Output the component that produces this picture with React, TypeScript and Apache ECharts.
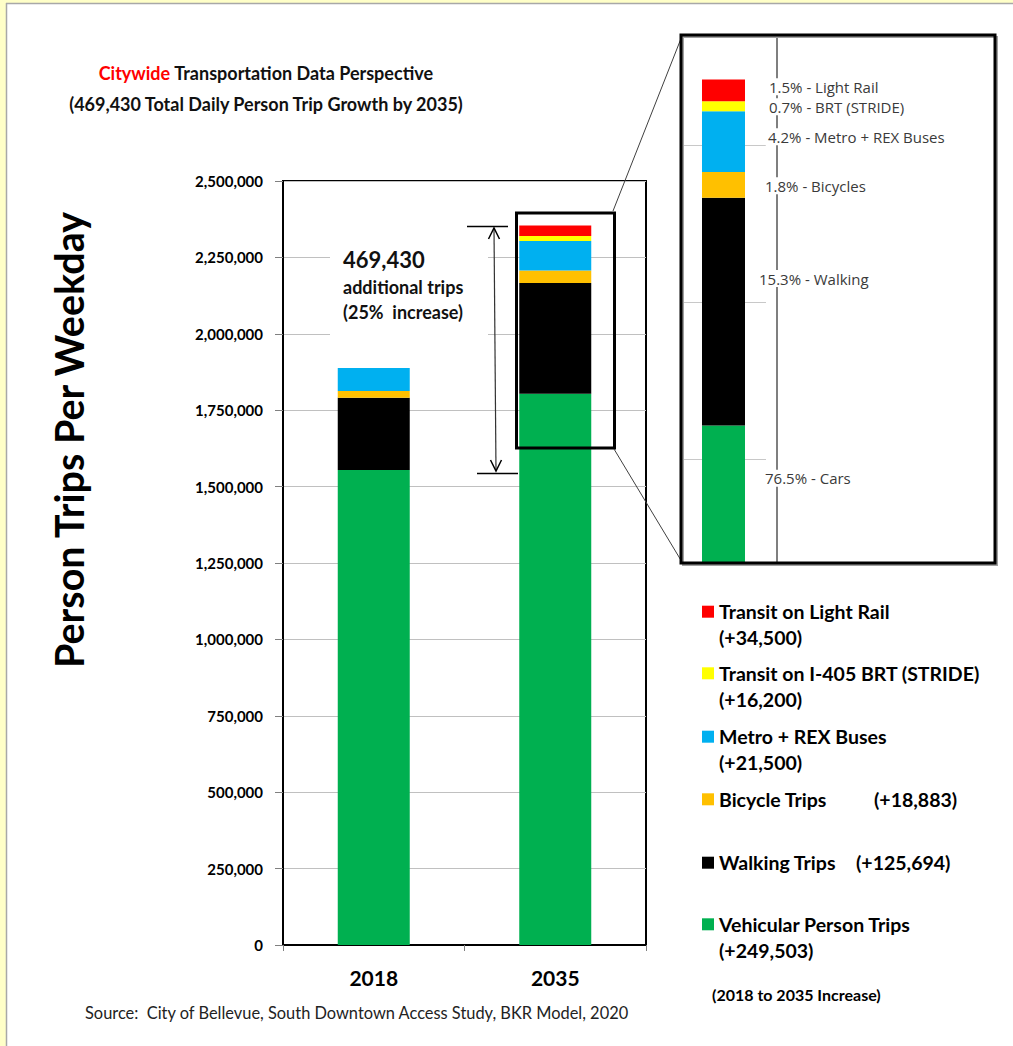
import React, { useEffect, useRef } from 'react';
import * as echarts from 'echarts';

// ---- data ----
const years = ['2018', '2035'];
const modeNames = [
  'Vehicular Person Trips',
  'Walking Trips',
  'Bicycle Trips',
  'Metro + REX Buses',
  'Transit on I-405 BRT (STRIDE)',
  'Transit on Light Rail',
];
const trips2018 = [1554000, 237000, 22000, 75000, 0, 0];
const trips2035 = [1803503, 362694, 40883, 96500, 16200, 34500];
const increases = ['(+249,503)', '(+125,694)', '(+18,883)', '(+21,500)', '(+16,200)', '(+34,500)'];
const shareLabels = [
  '76.5% - Cars',
  '15.3% - Walking',
  '1.8% - Bicycles',
  '4.2% - Metro + REX Buses',
  '0.7% - BRT (STRIDE)',
  '1.5% - Light Rail',
];
const yMin = 0;
const yMax = 2500000;
const yInterval = 250000;
const insetMin = 1584400;
const insetMax = 2425200;

// ---- styles ----
const modeColors = ['#00B050', '#000000', '#FFC000', '#00B0F0', '#FFFF00', '#FF0000'];
const labelOffsets = [[-2, -16], [-8, -33], [-2, 1], [1, -5], [2, 0.5], [2, -3.5]];
const legendOrder = [5, 4, 3, 2, 1, 0];
const legendCenters = [611.7, 673.3, 736.7, 799.3, 862.7, 924.3];
const legendTwoLine = [true, true, true, false, false, true];
const legendValueX = [0, 0, 0, 155, 137, 0];

const FONT = 'Lato, "Noto Sans", sans-serif';
const LABEL_FONT = '"Open Sans", "Noto Sans", sans-serif';
const LEG_SIZE = 19.5;

export default function App() {
  const ref = useRef<HTMLDivElement>(null);
  useEffect(() => {
    const chart = echarts.init(ref.current!, null, { renderer: 'svg' });

    const mainSeries = modeNames.map((name, i) => ({
      name,
      type: 'bar',
      stack: 'main',
      xAxisIndex: 0,
      yAxisIndex: 0,
      barWidth: 72,
      itemStyle: { color: modeColors[i] },
      data: [trips2018[i], trips2035[i]],
    }));

    const insetSeries = modeNames.map((name, i) => ({
      name,
      type: 'bar',
      stack: 'inset',
      xAxisIndex: 1,
      yAxisIndex: 1,
      barWidth: 43,
      itemStyle: { color: modeColors[i] },
      label: {
        show: true,
        position: 'right',
        distance: 19,
        offset: labelOffsets[i],
        formatter: shareLabels[i],
        color: '#3a3a3a',
        fontFamily: LABEL_FONT,
        fontSize: 15,
        lineHeight: 17,
        backgroundColor: '#ffffff',
        padding: [0, 3],
      },
      data: [trips2035[i]],
    }));

    const legends = legendOrder.map((idx, k) => {
      const name = modeNames[idx];
      const two = legendTwoLine[k];
      const base: any = {
        show: true,
        data: [name],
        left: 702,
        top: two ? legendCenters[k] - 39 : legendCenters[k] - 13,
        orient: 'vertical',
        padding: 0,
        itemGap: 0,
        itemWidth: 12,
        itemHeight: 12,
        icon: 'rect',
        selectedMode: false,
      };
      if (two) {
        // leading blank line keeps the name line level with the colour square
        base.formatter = (n: string) => ' \n' + n + '\n' + increases[idx];
        base.textStyle = {
          fontFamily: FONT,
          fontSize: LEG_SIZE,
          fontWeight: 'bold',
          color: '#000',
          lineHeight: 26,
        };
      } else {
        base.formatter = (n: string) => '{n|' + n + '}{v|' + increases[idx] + '}';
        base.textStyle = {
          fontFamily: FONT,
          fontSize: LEG_SIZE,
          fontWeight: 'bold',
          color: '#000',
          lineHeight: 26,
          rich: {
            n: { width: legendValueX[k], fontFamily: FONT, fontSize: LEG_SIZE, fontWeight: 'bold', color: '#000', lineHeight: 26 },
            v: { fontFamily: FONT, fontSize: LEG_SIZE, fontWeight: 'bold', color: '#000', lineHeight: 26 },
          },
        };
      }
      return base;
    });

    const option: any = {
      animation: false,
      backgroundColor: '#ffffff',
      title: {
        text: '{r|Citywide} Transportation Data Perspective\n(469,430 Total Daily Person Trip Growth by 2035)',
        left: 266,
        top: 57,
        textAlign: 'center',
        padding: 0,
        textStyle: {
          fontFamily: FONT,
          fontSize: 18,
          fontWeight: 'bold',
          color: '#111',
          lineHeight: 31,
          rich: {
            r: { fontFamily: FONT, fontSize: 18, fontWeight: 'bold', color: '#FF0000', lineHeight: 31 },
          },
        },
      },
      legend: legends,
      grid: [
        {
          left: 283, top: 181, width: 363, height: 764,
          show: true, borderColor: '#000', borderWidth: 2,
          containLabel: false, outerBoundsMode: 'none',
        },
        {
          left: 681, top: 35, width: 85, height: 528,
          containLabel: false, outerBoundsMode: 'none',
        },
      ],
      xAxis: [
        {
          type: 'category',
          gridIndex: 0,
          data: years,
          axisLine: { lineStyle: { color: '#000', width: 2 } },
          axisTick: { show: true, length: 6, lineStyle: { color: '#808080' } },
          axisLabel: { fontFamily: FONT, fontSize: 21, fontWeight: 'bold', color: '#000', margin: 22 },
        },
        {
          type: 'category',
          gridIndex: 1,
          data: [years[1]],
          show: false,
        },
      ],
      yAxis: [
        {
          type: 'value',
          gridIndex: 0,
          min: yMin,
          max: yMax,
          interval: yInterval,
          axisLine: { show: true, lineStyle: { color: '#000', width: 2 } },
          axisTick: { show: true, length: 8, lineStyle: { color: '#808080' } },
          axisLabel: {
            fontFamily: FONT, fontSize: 15, fontWeight: 'bold', color: '#000', margin: 20,
            formatter: (v: number) => v.toLocaleString('en-US'),
          },
          splitLine: { show: true, lineStyle: { color: '#c0c0c0', width: 1 } },
        },
        {
          type: 'value',
          gridIndex: 1,
          min: insetMin,
          max: insetMax,
          minInterval: yInterval,
          maxInterval: yInterval,
          axisLine: { show: false },
          axisTick: { show: false },
          axisLabel: { show: false },
          splitLine: { show: true, lineStyle: { color: '#c8c8c8', width: 1 } },
        },
      ],
      series: [...mainSeries, ...insetSeries],
      graphic: [
        // page edge
        { type: 'rect', z: 0, shape: { x: 0, y: 0, width: 6, height: 1046 }, style: { fill: '#FFFFC8' } },
        { type: 'rect', z: 0, shape: { x: 0, y: 0, width: 1013, height: 3 }, style: { fill: '#FFFFC8' } },
        { type: 'line', z: 0, shape: { x1: 6.5, y1: 3, x2: 6.5, y2: 1046 }, style: { stroke: '#a8a8a8', lineWidth: 1.5 } },
        { type: 'line', z: 0, shape: { x1: 6, y1: 3.5, x2: 1013, y2: 3.5 }, style: { stroke: '#a8a8a8', lineWidth: 1.5 } },
        // y axis title
        {
          type: 'text', z: 3, x: 68, y: 440, rotation: Math.PI / 2,
          style: { text: 'Person Trips Per Weekday', fontFamily: FONT, fontSize: 39.5, fontWeight: 'bold', fill: '#000', align: 'center', verticalAlign: 'middle' },
        },
        // annotation
        { type: 'rect', z: 1, shape: { x: 330, y: 236, width: 158, height: 104 }, style: { fill: '#ffffff' } },
        { type: 'text', z: 3, x: 343, y: 259, style: { text: '469,430', fontFamily: FONT, fontSize: 22, fontWeight: 'bold', fill: '#111', verticalAlign: 'middle' } },
        { type: 'text', z: 3, x: 343, y: 287, style: { text: 'additional trips', fontFamily: FONT, fontSize: 18, fontWeight: 'bold', fill: '#111', verticalAlign: 'middle' } },
        { type: 'text', z: 3, x: 343, y: 312, style: { text: '(25%  increase)', fontFamily: FONT, fontSize: 18, fontWeight: 'bold', fill: '#111', verticalAlign: 'middle' } },
        // arrow
        { type: 'line', z: 3, shape: { x1: 467, y1: 226.5, x2: 508, y2: 226.5 }, style: { stroke: '#000', lineWidth: 1.5 } },
        { type: 'line', z: 3, shape: { x1: 477, y1: 473.5, x2: 518, y2: 473.5 }, style: { stroke: '#000', lineWidth: 1.5 } },
        { type: 'line', z: 3, shape: { x1: 494, y1: 228, x2: 496, y2: 471 }, style: { stroke: '#333', lineWidth: 1.2 } },
        { type: 'polyline', z: 3, shape: { points: [[488.5, 239], [494, 228], [499.5, 239]] }, style: { stroke: '#000', lineWidth: 1.5, fill: 'none' } },
        { type: 'polyline', z: 3, shape: { points: [[490.5, 460], [496, 471], [501.5, 460]] }, style: { stroke: '#000', lineWidth: 1.5, fill: 'none' } },
        // highlight box and connectors
        { type: 'rect', z: 5, shape: { x: 516.5, y: 213, width: 98, height: 235 }, style: { fill: 'none', stroke: '#000', lineWidth: 3 } },
        { type: 'line', z: 5, shape: { x1: 613, y1: 211, x2: 682, y2: 36 }, style: { stroke: '#404040', lineWidth: 1 } },
        { type: 'line', z: 5, shape: { x1: 614, y1: 449, x2: 682, y2: 562 }, style: { stroke: '#404040', lineWidth: 1 } },
        // inset
        { type: 'line', z: 1, shape: { x1: 777, y1: 36, x2: 777, y2: 562 }, style: { stroke: '#555', lineWidth: 1.5 } },
        { type: 'rect', z: 5, shape: { x: 683, y: 37, width: 314, height: 528 }, style: { fill: 'none', stroke: '#a0a0a0', lineWidth: 2 } },
        { type: 'rect', z: 6, shape: { x: 681, y: 35, width: 314, height: 528 }, style: { fill: 'none', stroke: '#000', lineWidth: 3 } },
        // notes
        { type: 'text', z: 3, x: 712, y: 994, style: { text: '(2018 to 2035 Increase)', fontFamily: FONT, fontSize: 16, fontWeight: 'bold', fill: '#000', verticalAlign: 'middle' } },
        { type: 'text', z: 3, x: 85, y: 1012, style: { text: 'Source:  City of Bellevue, South Downtown Access Study, BKR Model, 2020', fontFamily: FONT, fontSize: 16.4, fill: '#222', verticalAlign: 'middle' } },
      ],
    };

    chart.setOption(option);
    return () => chart.dispose();
  }, []);

  return (
    <div
      ref={ref}
      style={{ position: 'absolute', left: 0, top: 0, width: 1013, height: 1046, background: '#fff' }}
    />
  );
}
